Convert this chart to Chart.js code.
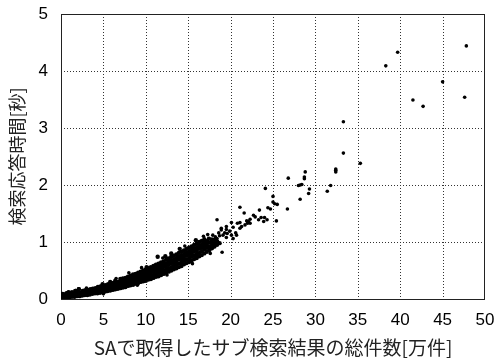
<!DOCTYPE html>
<html>
<head>
<meta charset="utf-8">
<script src="https://cdn.jsdelivr.net/npm/chart.js@4/dist/chart.umd.min.js"></script>
<style>
  html, body { margin: 0; padding: 0; background: #fff; }
  #wrap { width: 496px; height: 361px; }
</style>
</head>
<body>
<div id="wrap"><canvas id="chart" width="496" height="361"></canvas></div>
<script>
// 横軸: SAで取得したサブ検索結果の総件数[万件], 縦軸: 検索応答時間[秒]
const xTicks = [0, 5, 10, 15, 20, 25, 30, 35, 40, 45, 50];
const yTicks = [0, 1, 2, 3, 4, 5];

// 密集した帯の部分 (0〜19万件)
const denseBand = [
  [0.05,0.00],[0.05,0.02],[0.08,0.04],[0.1,0.06],
  [0.2,0.01],[0.22,0.03],[0.18,0.05],[0.25,0.07],[0.2,0.09],
  [0.4,0.02],[0.38,0.04],[0.42,0.06],[0.45,0.08],
  [0.6,0.02],[0.62,0.05],[0.58,0.07],[0.65,0.10],
  [0.8,0.03],[0.82,0.05],[0.78,0.08],[0.85,0.11],
  [1.0,0.03],[1.05,0.06],[0.98,0.08],[1.02,0.10],
  [1.3,0.04],[1.28,0.06],[1.33,0.09],[1.3,0.12],
  [1.6,0.04],[1.62,0.07],[1.58,0.09],[1.7,0.14],
  [1.9,0.05],[1.92,0.07],[1.88,0.10],[1.95,0.12],
  [2.2,0.05],[2.18,0.08],[2.25,0.11],[2.1,0.17],
  [2.5,0.06],[2.52,0.09],[2.48,0.11],[2.55,0.14],
  [2.8,0.07],[2.78,0.09],[2.83,0.12],[2.8,0.15],
  [3.1,0.07],[3.12,0.10],[3.08,0.13],[3.15,0.16],
  [3.4,0.08],[3.42,0.11],[3.38,0.14],[3.45,0.17],
  [3.7,0.09],[3.72,0.12],[3.68,0.15],[3.75,0.18],
  [4.0,0.10],[4.02,0.13],[3.98,0.16],[4.05,0.19],
  [4.3,0.10],[4.32,0.14],[4.28,0.17],[4.35,0.21],
  [4.6,0.11],[4.62,0.15],[4.58,0.18],[4.65,0.22],
  [4.9,0.12],[4.92,0.16],[4.88,0.19],[4.95,0.23],[4.9,0.26],
  [5.2,0.13],[5.22,0.17],[5.18,0.21],[5.25,0.24],
  [5.5,0.14],[5.52,0.18],[5.48,0.22],[5.55,0.26],
  [5.8,0.15],[5.82,0.19],[5.78,0.23],[5.85,0.27],[5.8,0.30],
  [6.1,0.16],[6.12,0.20],[6.08,0.24],[6.15,0.28],
  [6.4,0.17],[6.42,0.21],[6.38,0.25],[6.45,0.29],[6.4,0.32],
  [6.7,0.18],[6.72,0.22],[6.68,0.26],[6.75,0.30],
  [7.0,0.19],[7.02,0.23],[6.98,0.27],[7.05,0.31],[7.0,0.35],
  [7.3,0.20],[7.32,0.24],[7.28,0.28],[7.35,0.32],[7.3,0.36],
  [7.6,0.21],[7.62,0.25],[7.58,0.29],[7.65,0.33],[7.6,0.37],
  [7.9,0.23],[7.92,0.27],[7.88,0.31],[7.95,0.35],[7.9,0.39],
  [8.2,0.24],[8.22,0.28],[8.18,0.32],[8.25,0.36],[8.2,0.41],
  [8.5,0.25],[8.52,0.30],[8.48,0.34],[8.55,0.38],[8.5,0.43],
  [8.8,0.27],[8.82,0.31],[8.78,0.35],[8.85,0.40],[8.8,0.44],
  [9.1,0.28],[9.12,0.33],[9.08,0.37],[9.15,0.42],[9.1,0.46],
  [9.4,0.30],[9.42,0.34],[9.38,0.39],[9.45,0.44],[9.4,0.48],
  [9.7,0.31],[9.72,0.36],[9.68,0.41],[9.75,0.45],[9.7,0.50],
  [10.0,0.32],[10.02,0.37],[9.98,0.42],[10.05,0.47],[10.0,0.52],[10.1,0.56],
  [10.3,0.34],[10.32,0.39],[10.28,0.44],[10.35,0.49],[10.3,0.54],
  [10.6,0.35],[10.62,0.41],[10.58,0.46],[10.65,0.51],[10.6,0.56],
  [10.9,0.37],[10.92,0.42],[10.88,0.48],[10.95,0.53],[10.9,0.58],
  [11.2,0.39],[11.22,0.44],[11.18,0.50],[11.25,0.55],[11.2,0.60],
  [11.5,0.40],[11.52,0.46],[11.48,0.52],[11.55,0.57],[11.5,0.62],[11.4,0.74],
  [11.8,0.42],[11.82,0.48],[11.78,0.54],[11.85,0.59],[11.8,0.64],
  [12.1,0.44],[12.12,0.50],[12.08,0.56],[12.15,0.61],[12.1,0.66],
  [12.4,0.46],[12.42,0.52],[12.38,0.58],[12.45,0.63],[12.4,0.69],[12.3,0.75],
  [12.7,0.48],[12.72,0.54],[12.68,0.60],[12.75,0.66],[12.7,0.71],
  [13.0,0.50],[13.02,0.56],[12.98,0.62],[13.05,0.68],[13.0,0.74],[13.0,0.80],
  [13.3,0.52],[13.32,0.58],[13.28,0.64],[13.35,0.70],[13.3,0.76],
  [13.6,0.54],[13.62,0.60],[13.58,0.66],[13.65,0.72],[13.6,0.78],
  [13.9,0.56],[13.92,0.62],[13.88,0.69],[13.95,0.75],[13.9,0.81],[14.0,0.88],
  [14.2,0.58],[14.22,0.65],[14.18,0.71],[14.25,0.77],[14.2,0.83],
  [14.5,0.61],[14.52,0.67],[14.48,0.73],[14.55,0.79],[14.5,0.85],
  [14.8,0.63],[14.82,0.69],[14.78,0.76],[14.85,0.82],[14.8,0.88],
  [15.1,0.65],[15.12,0.72],[15.08,0.78],[15.15,0.84],[15.1,0.90],
  [15.4,0.67],[15.42,0.74],[15.38,0.80],[15.45,0.86],[15.4,0.92],
  [15.7,0.70],[15.72,0.76],[15.68,0.83],[15.75,0.89],[15.7,0.95],[15.9,1.03],
  [16.0,0.72],[16.02,0.79],[15.98,0.85],[16.05,0.91],[16.0,0.97],
  [16.3,0.75],[16.32,0.81],[16.28,0.88],[16.35,0.94],[16.3,1.00],
  [16.6,0.77],[16.62,0.84],[16.58,0.90],[16.65,0.96],[16.6,1.02],
  [16.9,0.80],[16.92,0.87],[16.88,0.93],[16.95,0.99],[16.9,1.05],
  [17.2,0.83],[17.22,0.90],[17.18,0.96],[17.25,1.02],
  [17.5,0.86],[17.52,0.92],[17.48,0.99],[17.45,1.06],
  [17.8,0.89],[17.82,0.95],[17.78,1.01],
  [18.1,0.92],[18.12,0.98],[18.08,1.04],
  [18.4,0.95],[18.42,1.01],
  [18.7,0.98],
  [1.7,0.14],[2.1,0.17],[0.9,0.12]
];

// 帯の縁のばらついた点
const bandEdge = [
  [6.5,0.36],[8.0,0.46],[9.5,0.55],[12.0,0.72],[14.6,0.93],
  [16.8,1.10],[17.3,1.13],[9.0,0.24],[12.5,0.42],[15.5,0.62],
  [17.6,0.80],[3.0,0.19],[5.0,0.09]
];

// まばらな部分 (18万件以上)
const sparseTail = [
  [18.4,1.39],[19.0,0.82],[18.9,1.24],[19.5,1.27],[19.6,1.15],
  [21.1,1.61],[21.6,1.51],[24.1,1.94],[25.0,1.80],[25.0,1.70],
  [25.2,1.67],[25.5,1.66],[24.4,1.60],[24.7,1.58],[26.7,1.58],
  [25.4,1.37],[23.4,1.56],[23.6,1.43],[24.0,1.43],[24.3,1.39],
  [23.3,1.39],[23.9,1.36],[22.7,1.47],[22.9,1.44],[22.3,1.33],
  [21.9,1.37],[22.3,1.40],[21.7,1.30],[22.0,1.33],[22.1,1.36],
  [21.3,1.27],[21.1,1.34],[20.8,1.33],[21.1,1.24],[20.6,1.16],
  [20.1,1.34],[20.3,1.26],[19.9,1.19],[20.1,1.12],[20.7,1.12],
  [19.5,1.22],[19.3,1.16],[18.9,1.21],[19.1,1.12],[18.7,1.11],
  [18.6,1.16],[18.2,1.09],[18.4,1.06],[17.9,1.12],[17.8,1.05],
  [20.3,1.06],[19.5,1.08],
  [26.8,2.12],[28.0,1.99],[28.2,2.00],[28.4,2.01],[28.7,2.11],
  [28.7,2.14],[28.8,2.23],[29.3,1.93],[29.2,1.85],[28.2,1.75],
  [31.4,1.89],[31.8,1.99],[32.4,2.23],[32.4,2.26],[32.4,2.28],
  [33.3,2.56],[33.3,3.11],[35.3,2.38],[38.3,4.09],[39.7,4.33],
  [41.5,3.49],[42.7,3.38],[45.0,3.81],[47.6,3.54],[47.8,4.44]
];

const toXY = (arr) => arr.map(([x, y]) => ({ x, y }));

const tickFont = { family: "'Liberation Sans', Arial, sans-serif", size: 17 };
const titleFont = { family: "'Noto Sans CJK JP', sans-serif", size: 18 };

// 点線のグリッドと外枠を描く
const framePlugin = {
  id: "frame",
  beforeDatasetsDraw(chart) {
    const { ctx, chartArea: a, scales } = chart;
    ctx.save();
    ctx.strokeStyle = "#333";
    ctx.lineWidth = 1;
    ctx.setLineDash([1, 2]);
    xTicks.slice(1, -1).forEach((v) => {
      const px = Math.round(scales.x.getPixelForValue(v)) + 0.5;
      ctx.beginPath();
      ctx.moveTo(px, a.top);
      ctx.lineTo(px, a.bottom);
      ctx.stroke();
    });
    yTicks.slice(1, -1).forEach((v) => {
      const py = Math.round(scales.y.getPixelForValue(v)) + 0.5;
      ctx.beginPath();
      ctx.moveTo(a.left, py);
      ctx.lineTo(a.right, py);
      ctx.stroke();
    });
    ctx.setLineDash([]);
    ctx.strokeStyle = "#222";
    ctx.strokeRect(a.left + 0.5, a.top + 0.5, a.right - a.left - 1, a.bottom - a.top);
    ctx.restore();
  }
};

new Chart(document.getElementById("chart"), {
  type: "scatter",
  data: {
    datasets: [
      {
        data: toXY(denseBand),
        pointRadius: 2.2,
        pointBackgroundColor: "#000",
        pointBorderWidth: 0
      },
      {
        data: toXY(bandEdge.concat(sparseTail)),
        pointRadius: 1.8,
        pointBackgroundColor: "#000",
        pointBorderWidth: 0
      }
    ]
  },
  options: {
    responsive: false,
    animation: false,
    layout: { padding: { top: 14, right: 11, left: 0, bottom: 0 } },
    plugins: { legend: { display: false }, tooltip: { enabled: false } },
    scales: {
      x: {
        type: "linear",
        min: xTicks[0],
        max: xTicks[xTicks.length - 1],
        afterBuildTicks: (s) => { s.ticks = xTicks.map((v) => ({ value: v })); },
        afterFit: (s) => { s.height = 62; },
        ticks: { font: tickFont, color: "#000", padding: 0, maxRotation: 0 },
        grid: { display: false, drawTicks: true, tickLength: 11 },
        border: { display: false },
        title: {
          display: true,
          text: "SAで取得したサブ検索結果の総件数[万件]",
          font: { ...titleFont, size: 19 },
          color: "#222",
          padding: { top: 0, bottom: 2 }
        }
      },
      y: {
        type: "linear",
        min: yTicks[0],
        max: yTicks[yTicks.length - 1],
        afterBuildTicks: (s) => { s.ticks = yTicks.map((v) => ({ value: v })); },
        afterFit: (s) => { s.width = 61; },
        ticks: { font: tickFont, color: "#000", padding: 0 },
        grid: { display: false, drawTicks: true, tickLength: 13 },
        border: { display: false },
        title: {
          display: true,
          text: "検索応答時間[秒]",
          font: titleFont,
          color: "#222",
          padding: { top: 6, bottom: 0 }
        }
      }
    }
  },
  plugins: [framePlugin]
});
</script>
</body>
</html>
